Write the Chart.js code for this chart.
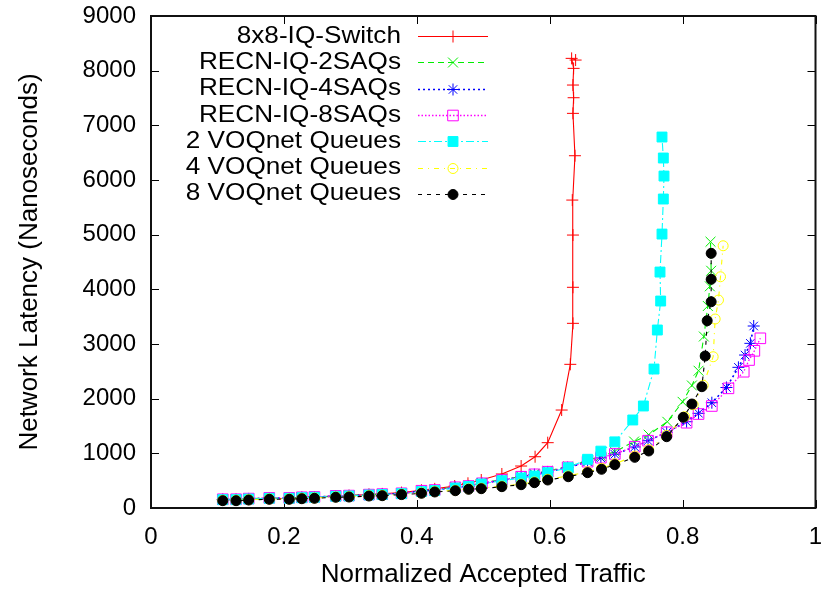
<!DOCTYPE html>
<html>
<head>
<meta charset="utf-8">
<script src="https://cdn.jsdelivr.net/npm/chart.js@4/dist/chart.umd.min.js"></script>
<style>
  html, body { margin: 0; padding: 0; background: #fff; }
  #plot { display: block; }
</style>
</head>
<body>
<canvas id="plot" width="824" height="591"></canvas>
<script>
// Series labels
const seriesNames = [
  '8x8-IQ-Switch',
  'RECN-IQ-2SAQs',
  'RECN-IQ-4SAQs',
  'RECN-IQ-8SAQs',
  '2 VOQnet Queues',
  '4 VOQnet Queues',
  '8 VOQnet Queues'
];

// Axis ticks
const trafficTicks = [0, 0.2, 0.4, 0.6, 0.8, 1];
const latencyTicks = [0, 1000, 2000, 3000, 4000, 5000, 6000, 7000, 8000, 9000];

// 8x8-IQ-Switch
const iqSwitchTraffic = [0.108,0.128,0.147,0.178,0.208,0.227,0.246,0.278,0.298,0.328,0.348,0.377,0.407,0.427,0.457,0.477,0.497,0.528,0.557,0.578,0.597,0.618,0.631,0.635,0.635,0.635,0.634,0.638,0.635,0.636,0.635,0.636,0.633,0.639];
const iqSwitchLatency = [150,150,162,175,178,190,198,218,226,248,258,282,325,350,402,452,512,622,768,938,1195,1792,2628,3378,4037,4993,5633,6444,7219,7505,7737,8042,8225,8194];

// RECN-IQ-2SAQs
const recn2Traffic = [0.108,0.128,0.147,0.178,0.208,0.227,0.246,0.278,0.298,0.328,0.348,0.377,0.407,0.427,0.458,0.478,0.498,0.528,0.557,0.577,0.597,0.628,0.657,0.677,0.698,0.727,0.749,0.777,0.800,0.814,0.824,0.832,0.838,0.841,0.843,0.842];
const recn2Latency = [158,158,170,183,184,194,202,222,228,247,254,272,318,333,383,407,458,518,580,625,678,760,865,950,1030,1216,1341,1577,1942,2241,2511,3137,3695,4055,4340,4871];

// RECN-IQ-4SAQs
const recn4Traffic = [0.108,0.128,0.147,0.178,0.208,0.227,0.246,0.278,0.298,0.328,0.348,0.377,0.407,0.427,0.458,0.478,0.498,0.528,0.557,0.577,0.597,0.627,0.657,0.677,0.698,0.728,0.748,0.776,0.806,0.824,0.844,0.866,0.884,0.894,0.902,0.907];
const recn4Latency = [155,155,167,180,181,191,199,217,223,241,250,266,312,326,375,398,448,508,568,612,660,740,843,916,984,1116,1231,1385,1578,1732,1926,2204,2573,2798,3012,3329];

// RECN-IQ-8SAQs
const recn8Traffic = [0.108,0.128,0.147,0.178,0.208,0.227,0.246,0.278,0.298,0.328,0.348,0.377,0.407,0.427,0.458,0.478,0.498,0.528,0.557,0.577,0.597,0.627,0.657,0.677,0.698,0.728,0.748,0.776,0.806,0.824,0.844,0.869,0.892,0.900,0.908,0.917];
const recn8Latency = [160,160,172,185,185,196,203,222,227,245,254,269,316,329,379,402,452,512,572,616,664,744,847,920,988,1121,1231,1385,1560,1719,1866,2189,2493,2707,2875,3104];

// 2 VOQnet Queues
const voq2Traffic = [0.108,0.128,0.147,0.178,0.208,0.227,0.246,0.278,0.298,0.328,0.348,0.377,0.407,0.427,0.458,0.478,0.497,0.528,0.557,0.577,0.597,0.628,0.657,0.677,0.698,0.725,0.741,0.757,0.762,0.767,0.766,0.769,0.771,0.772,0.771,0.769];
const voq2Latency = [152,152,164,177,178,188,196,214,220,238,246,262,300,318,365,395,439,499,549,585,646,737,891,1040,1210,1610,1866,2542,3256,3786,4316,5011,5652,6072,6402,6786];

// 4 VOQnet Queues
const voq4Traffic = [0.108,0.128,0.147,0.178,0.208,0.227,0.246,0.278,0.298,0.328,0.348,0.377,0.407,0.427,0.458,0.478,0.497,0.528,0.557,0.577,0.597,0.628,0.657,0.678,0.698,0.728,0.749,0.776,0.803,0.816,0.831,0.846,0.849,0.854,0.857,0.861];
const voq4Latency = [140,140,152,165,165,176,183,202,207,225,231,252,276,300,324,350,362,400,437,475,525,587,662,725,810,950,1070,1330,1670,1889,2244,2767,3457,3804,4230,4797];

// 8 VOQnet Queues
const voq8Traffic = [0.108,0.128,0.147,0.178,0.208,0.227,0.246,0.278,0.298,0.328,0.348,0.377,0.407,0.427,0.458,0.478,0.497,0.528,0.557,0.577,0.597,0.628,0.657,0.678,0.698,0.728,0.749,0.776,0.801,0.814,0.829,0.834,0.837,0.843,0.843,0.843];
const voq8Latency = [134,134,146,159,159,170,177,196,201,219,225,245,269,293,316,342,353,390,426,463,512,572,646,708,792,927,1043,1304,1659,1902,2219,2780,3426,3773,4183,4658];

const pairs = (xs, ys) => xs.map((x, i) => ({ x: x, y: ys[i] }));

const FONT = '"Liberation Sans", Arial, Helvetica, sans-serif';

const styles = [
  { color: '#ff0000', dash: [],           w: 1.1, point: 'cross',    r: 6,   fill: false },
  { color: '#00ee00', dash: [6, 4],       w: 1.1, point: 'crossRot', r: 7,   fill: false },
  { color: '#0000ff', dash: [2, 3],       w: 1.6, point: 'star',     r: 6,   fill: false },
  { color: '#ff00ff', dash: [1.5, 2],     w: 1.3, point: 'rect',     r: 7.5, fill: false },
  { color: '#00ffff', dash: [8, 3, 2, 3], w: 1.1, point: 'rect',     r: 7,   fill: true  },
  { color: '#ffff00', dash: [5, 5, 1, 5], w: 1.1, point: 'circle',   r: 5,   fill: false },
  { color: '#000000', dash: [4, 5],       w: 1.1, point: 'circle',   r: 5,   fill: true  }
];

const seriesData = [
  pairs(iqSwitchTraffic, iqSwitchLatency),
  pairs(recn2Traffic, recn2Latency),
  pairs(recn4Traffic, recn4Latency),
  pairs(recn8Traffic, recn8Latency),
  pairs(voq2Traffic, voq2Latency),
  pairs(voq4Traffic, voq4Latency),
  pairs(voq8Traffic, voq8Latency)
];

const datasets = seriesNames.map((name, i) => {
  const s = styles[i];
  return {
    label: name,
    data: seriesData[i],
    borderColor: s.color,
    borderWidth: s.w,
    borderDash: s.dash,
    fill: false,
    tension: 0,
    pointStyle: s.point,
    pointRadius: s.r,
    pointBorderWidth: 1,
    pointBorderColor: s.color,
    pointBackgroundColor: s.fill ? s.color : 'rgba(0,0,0,0)',
    order: seriesNames.length - i   // later series are drawn on top
  };
});

// Plot frame with inward tick marks on all four sides
const framePlugin = {
  id: 'frame',
  beforeDatasetsDraw(chart) {
    const { ctx, chartArea: a, scales: { x, y } } = chart;
    ctx.save();
    ctx.strokeStyle = '#000';
    ctx.lineWidth = 1;
    ctx.beginPath();
    trafficTicks.forEach(v => {
      const px = Math.round(x.getPixelForValue(v)) + 0.5;
      ctx.moveTo(px, a.bottom); ctx.lineTo(px, a.bottom - 8);
      ctx.moveTo(px, a.top); ctx.lineTo(px, a.top + 8);
    });
    latencyTicks.forEach(v => {
      const py = Math.round(y.getPixelForValue(v)) + 0.5;
      ctx.moveTo(a.left, py); ctx.lineTo(a.left + 8, py);
      ctx.moveTo(a.right, py); ctx.lineTo(a.right - 8, py);
    });
    ctx.stroke();
    ctx.lineWidth = 2;
    ctx.strokeStyle = '#111';
    ctx.strokeRect(a.left, a.top, a.right - a.left, a.bottom - a.top);
    ctx.restore();
  }
};

// Key in the upper left: right-aligned label, then line sample with its marker
const keyPlugin = {
  id: 'key',
  afterDraw(chart) {
    const ctx = chart.ctx;
    const rowTop = 36, rowStep = 26.3;
    const textRight = 401, lineStart = 418, lineEnd = 488, markX = 453;
    chart.data.datasets.forEach((ds, i) => {
      const yy = rowTop + i * rowStep;
      const ly = Math.round(yy) + 0.5;
      ctx.save();
      ctx.font = '24px ' + FONT;
      ctx.fillStyle = '#000';
      ctx.textAlign = 'right';
      ctx.textBaseline = 'middle';
      ctx.translate(textRight, yy);
      ctx.scale(1.09, 1);
      ctx.fillText(ds.label, 0, 0);
      ctx.restore();

      ctx.save();
      ctx.strokeStyle = ds.borderColor;
      ctx.lineWidth = ds.borderWidth;
      ctx.setLineDash(ds.borderDash);
      ctx.beginPath();
      ctx.moveTo(lineStart, ly);
      ctx.lineTo(lineEnd, ly);
      ctx.stroke();
      ctx.setLineDash([]);
      ctx.fillStyle = ds.pointBackgroundColor;
      ctx.strokeStyle = ds.pointBorderColor;
      ctx.lineWidth = ds.pointBorderWidth;
      Chart.helpers.drawPoint(ctx, {
        pointStyle: ds.pointStyle,
        radius: ds.pointRadius,
        borderWidth: ds.pointBorderWidth,
        rotation: 0
      }, markX, ly);
      ctx.restore();
    });
  }
};

new Chart(document.getElementById('plot'), {
  type: 'line',
  data: { datasets: datasets },
  options: {
    responsive: false,
    animation: false,
    devicePixelRatio: 1,
    layout: { padding: { top: 16, right: 6, bottom: 0, left: 0 } },
    plugins: { legend: { display: false }, tooltip: { enabled: false } },
    scales: {
      x: {
        type: 'linear',
        min: 0, max: 1,
        grid: { display: false, drawTicks: false },
        border: { display: false },
        afterBuildTicks(scale) { scale.ticks = trafficTicks.map(v => ({ value: v })); },
        afterFit(scale) { scale.height = 83; scale.paddingLeft = 0; scale.paddingRight = 0; },
        ticks: {
          padding: 15,
          color: '#000',
          font: { family: FONT, size: 24 },
          maxRotation: 0,
          callback: v => String(Math.round(v * 10) / 10)
        },
        title: {
          display: true,
          text: 'Normalized Accepted Traffic',
          color: '#000',
          font: { family: FONT, size: 26 },
          padding: { top: 0, bottom: 1 }
        }
      },
      y: {
        type: 'linear',
        min: 0, max: 9000,
        grid: { display: false, drawTicks: false },
        border: { display: false },
        afterBuildTicks(scale) { scale.ticks = latencyTicks.map(v => ({ value: v })); },
        afterFit(scale) { scale.width = 151; scale.paddingTop = 0; scale.paddingBottom = 0; },
        ticks: {
          padding: 15,
          color: '#000',
          font: { family: FONT, size: 24 },
          callback: v => String(v)
        },
        title: {
          display: true,
          text: 'Network Latency (Nanoseconds)',
          color: '#000',
          font: { family: FONT, size: 26 },
          padding: { top: 14, bottom: 0 }
        }
      }
    }
  },
  plugins: [framePlugin, keyPlugin]
});
</script>
</body>
</html>
